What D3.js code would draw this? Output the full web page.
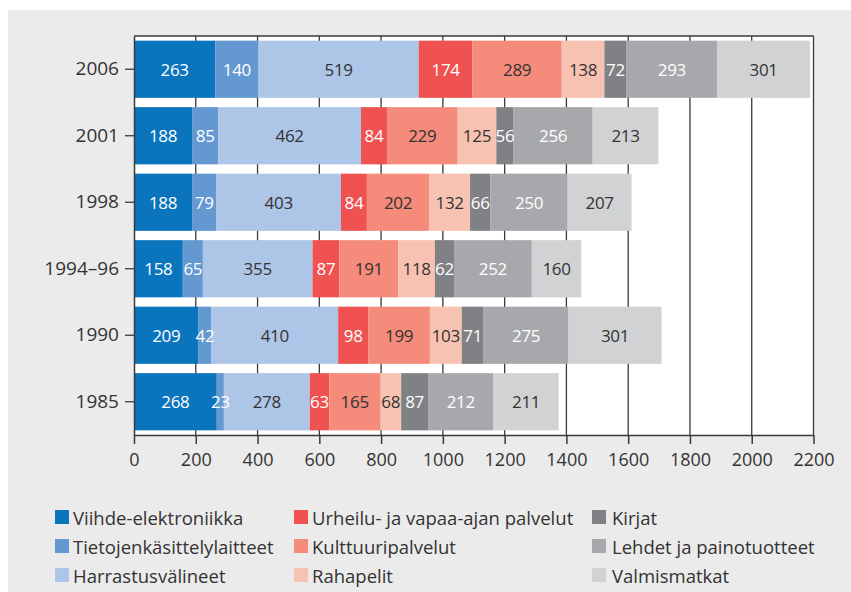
<!DOCTYPE html>
<html>
<head>
<meta charset="utf-8">
<script src="https://cdn.jsdelivr.net/npm/d3@7"></script>
<style>
  html, body { margin: 0; padding: 0; background: #ffffff; }
  svg { display: block; }
  text { font-family: "Open Sans", "Noto Sans", sans-serif; }
</style>
</head>
<body>
<svg id="chart" width="851" height="592"></svg>
<script>
// Survey years (top to bottom)
const years = ["2006", "2001", "1998", "1994–96", "1990", "1985"];

// Spending categories, in stacking order
const categories = [
  "Viihde-elektroniikka",
  "Tietojenkäsittelylaitteet",
  "Harrastusvälineet",
  "Urheilu- ja vapaa-ajan palvelut",
  "Kulttuuripalvelut",
  "Rahapelit",
  "Kirjat",
  "Lehdet ja painotuotteet",
  "Valmismatkat"
];

// Values per category, one entry per year (same order as `years`)
const viihde      = [263, 188, 188, 158, 209, 268];
const tieto       = [140,  85,  79,  65,  42,  23];
const harrastus   = [519, 462, 403, 355, 410, 278];
const urheilu     = [174,  84,  84,  87,  98,  63];
const kulttuuri   = [289, 229, 202, 191, 199, 165];
const rahapelit   = [138, 125, 132, 118, 103,  68];
const kirjat      = [ 72,  56,  66,  62,  71,  87];
const lehdet      = [293, 256, 250, 252, 275, 212];
const valmismatka = [301, 213, 207, 160, 301, 211];

const seriesValues = [viihde, tieto, harrastus, urheilu, kulttuuri, rahapelit, kirjat, lehdet, valmismatka];

// Axis ticks
const xTicks = [0, 200, 400, 600, 800, 1000, 1200, 1400, 1600, 1800, 2000, 2200];

const colors = ["#0a75bd", "#6498d1", "#adc5e6", "#ef5250", "#f48b7b", "#f8c2b2", "#808184", "#a7a8ab", "#d1d2d4"];
const labelColors = ["#ffffff", "#ffffff", "#333333", "#ffffff", "#333333", "#333333", "#ffffff", "#ffffff", "#333333"];

// Build row objects for d3.stack
const rows = years.map((y, i) => {
  const r = { year: y };
  categories.forEach((c, k) => { r[c] = seriesValues[k][i]; });
  return r;
});
const stacked = d3.stack().keys(categories)(rows);

const svg = d3.select("#chart");

// Outer panel background
svg.append("rect").attr("x", 8).attr("y", 10).attr("width", 843).attr("height", 582).attr("fill", "#ebebeb");

const plot = { left: 134, right: 813.5, top: 36, bottom: 435 };

const x = d3.scaleLinear().domain([0, 2200]).range([plot.left, plot.right]);
const y = d3.scaleBand().domain(years).range([plot.top, plot.bottom]).paddingInner(0.14).paddingOuter(0.07);

// Plot area
svg.append("rect")
  .attr("x", plot.left).attr("y", plot.top)
  .attr("width", plot.right - plot.left).attr("height", plot.bottom - plot.top)
  .attr("fill", "#ffffff");

// Vertical grid lines
svg.append("g")
  .selectAll("line")
  .data(xTicks.slice(1))
  .join("line")
  .attr("x1", d => x(d)).attr("x2", d => x(d))
  .attr("y1", plot.top).attr("y2", plot.bottom)
  .attr("stroke", "#3a3a3a").attr("stroke-width", 1.3);

// Stacked bars
const layer = svg.append("g")
  .selectAll("g")
  .data(stacked)
  .join("g")
  .attr("fill", (d, i) => colors[i]);

layer.selectAll("rect")
  .data(d => d)
  .join("rect")
  .attr("x", d => x(d[0]))
  .attr("y", d => y(d.data.year))
  .attr("width", d => x(d[1]) - x(d[0]))
  .attr("height", y.bandwidth());

// Value labels
const labels = svg.append("g")
  .selectAll("g")
  .data(stacked)
  .join("g")
  .attr("fill", (d, i) => labelColors[i]);

labels.selectAll("text")
  .data(d => d)
  .join("text")
  .attr("x", d => (x(d[0]) + x(d[1])) / 2)
  .attr("y", d => y(d.data.year) + y.bandwidth() / 2)
  .attr("text-anchor", "middle")
  .attr("dominant-baseline", "central")
  .attr("font-size", 17)
  .attr("letter-spacing", -0.3)
  .text(d => d[1] - d[0]);

// Plot frame: top edge
svg.append("line")
  .attr("x1", plot.left).attr("x2", plot.right)
  .attr("y1", plot.top).attr("y2", plot.top)
  .attr("stroke", "#3a3a3a").attr("stroke-width", 1.5);

// Bottom axis
const xAxis = svg.append("g")
  .attr("transform", `translate(0,${plot.bottom})`)
  .call(d3.axisBottom(x).tickValues(xTicks).tickFormat(d3.format("d"))
    .tickSize(9).tickPadding(9).tickSizeOuter(0));
xAxis.select(".domain").attr("stroke", "#3a3a3a").attr("stroke-width", 1.5);
xAxis.selectAll(".tick line").attr("stroke", "#3a3a3a").attr("stroke-width", 1.5);
xAxis.selectAll(".tick text")
  .attr("font-family", "'Open Sans', 'Noto Sans', sans-serif")
  .attr("font-size", 18).attr("fill", "#333333");

// Left axis
const yAxis = svg.append("g")
  .attr("transform", `translate(${plot.left},0)`)
  .call(d3.axisLeft(y).tickSize(9).tickPadding(6).tickSizeOuter(0));
yAxis.select(".domain").attr("stroke", "#3a3a3a").attr("stroke-width", 1.5);
yAxis.selectAll(".tick line").attr("stroke", "#3a3a3a").attr("stroke-width", 1.3);
yAxis.selectAll(".tick text")
  .attr("font-family", "'Open Sans', 'Noto Sans', sans-serif")
  .attr("font-size", 19).attr("fill", "#333333");

// Legend: three columns, filled column by column
const legendCols = [55, 294, 592];
const legendRows = [517, 546, 575];
const legend = svg.append("g")
  .selectAll("g")
  .data(categories)
  .join("g")
  .attr("transform", (d, i) => `translate(${legendCols[Math.floor(i / 3)]},${legendRows[i % 3]})`);

legend.append("rect")
  .attr("x", 0).attr("y", -7)
  .attr("width", 14).attr("height", 14)
  .attr("fill", (d, i) => colors[i]);

legend.append("text")
  .attr("x", (d, i) => i >= 6 ? 20 : 18)
  .attr("y", 0)
  .attr("dominant-baseline", "central")
  .attr("font-size", 18.5)
  .attr("fill", "#333333")
  .text(d => d);
</script>
</body>
</html>
